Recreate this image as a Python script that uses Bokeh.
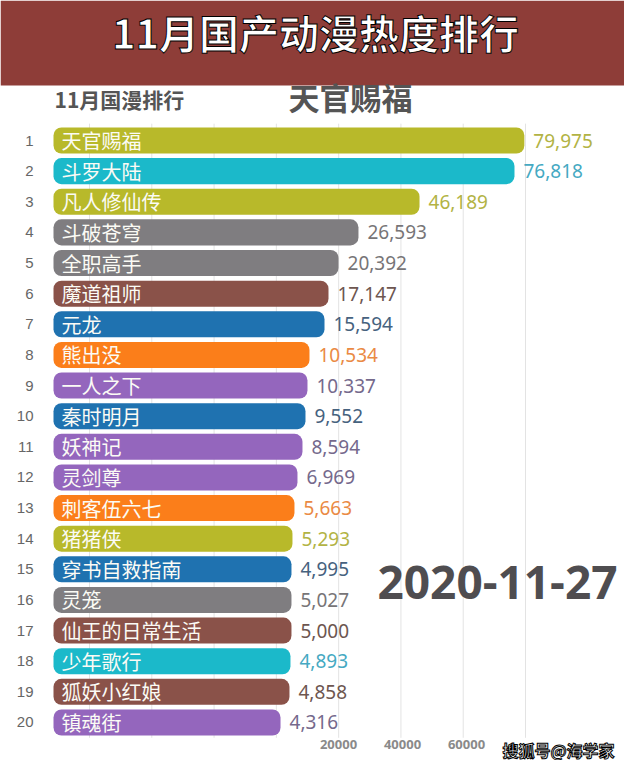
from bokeh.plotting import figure
from bokeh.models import Range1d, ColumnDataSource
from bokeh.core.properties import value
from bokeh.embed import file_html
from bokeh.resources import INLINE

# ---------------- data ----------------
ranks = list(range(1, 21))
names = ["天官赐福", "斗罗大陆", "凡人修仙传", "斗破苍穹", "全职高手", "魔道祖师", "元龙",
         "熊出没", "一人之下", "秦时明月", "妖神记", "灵剑尊", "刺客伍六七", "猪猪侠",
         "穿书自救指南", "灵笼", "仙王的日常生活", "少年歌行", "狐妖小红娘", "镇魂街"]
values = [79975, 76818, 46189, 26593, 20392, 17147, 15594, 10534, 10337, 9552,
          8594, 6969, 5663, 5293, 4995, 5027, 5000, 4893, 4858, 4316]
# bar lengths shown in this (mid-animation) frame
bar_len = [79975, 78300, 62170, 51800, 48410, 46710, 46030, 43480, 43140, 42800,
           42290, 41440, 40930, 40590, 40420, 40420, 40420, 40250, 40080, 38560]
groups = ["olive", "cyan", "olive", "gray", "gray", "brown", "blue", "orange", "purple", "blue",
          "purple", "purple", "orange", "olive", "blue", "gray", "brown", "cyan", "brown", "purple"]
grid_ticks = [10000, 20000, 30000, 40000, 50000, 60000, 70000, 80000]
axis_ticks = [20000, 40000, 60000]
chart_title = "11月国产动漫热度排行"
sub_title = "11月国漫排行"
leader = "天官赐福"
date_label = "2020-11-27"
watermark = "搜狐号@海学家"

bar_colors = {"olive": "#b8b92a", "cyan": "#1bb9ca", "gray": "#7f7d80", "brown": "#8a5249",
              "blue": "#1f72b0", "orange": "#fb7e1a", "purple": "#9466bd"}
label_colors = {"olive": "#b2b344", "cyan": "#45a9c2", "gray": "#777577", "brown": "#6d5650",
                "blue": "#46627e", "orange": "#ea8a44", "purple": "#75698c"}

# ---------------- figure ----------------
W, H = 624, 760
k = 471 / 80000.0                      # px per unit of the bar scale
x0_px = 53                             # where zero sits
row_px = 30.63
row1_px = 140

p = figure(width=W, height=H, output_backend="svg", toolbar_location=None,
           x_axis_type=None, y_axis_type=None, min_border=0,
           x_range=Range1d(-x0_px / k, (W - x0_px) / k),
           y_range=Range1d(1 + (H - row1_px) / row_px, 1 - row1_px / row_px))
p.outline_line_color = None
p.background_fill_color = "white"
p.border_fill_color = "white"

p.extra_x_ranges = {
    "px": Range1d(0, W),
    "grid": Range1d(10000 - 89 / (436 / 70000), 10000 + (W - 89) / (436 / 70000)),
    "ax": Range1d(20000 - 338 / 0.0032, 20000 + (W - 338) / 0.0032),
}
p.extra_y_ranges = {"px": Range1d(H, 0)}

# header band
p.quad(left=[0], right=[W], top=[0], bottom=[85], x_range_name="px", y_range_name="px",
       fill_color="#8e3d38", line_color=None)
p.text(x=[315], y=[31], text=[chart_title], x_range_name="px", y_range_name="px",
       text_font=value("Noto Sans CJK SC"), text_font_style="bold", text_font_size="40px",
       text_color="white", text_outline_color="black", text_align="center",
       text_baseline="middle")

p.text(x=[54], y=[98], text=[sub_title], x_range_name="px", y_range_name="px",
       text_font=value("Noto Sans CJK SC"), text_font_style="bold", text_font_size="21px",
       text_color="#555555", text_align="left", text_baseline="middle")
p.text(x=[350], y=[96], text=[leader], x_range_name="px", y_range_name="px",
       text_font=value("Noto Sans CJK SC"), text_font_style="bold", text_font_size="31px",
       text_color="#555555", text_align="center", text_baseline="middle")

# grid lines
p.segment(x0=grid_ticks, x1=grid_ticks, y0=[0.45] * len(grid_ticks), y1=[20.5] * len(grid_ticks),
          x_range_name="grid", line_color="#e3e3e3", line_width=1)

# bars
src = ColumnDataSource(dict(
    rank=ranks, name=names, length=bar_len,
    label=[f"{v:,}" for v in values],
    rank_txt=[str(r) for r in ranks],
    color=[bar_colors[g] for g in groups],
    lcolor=[label_colors[g] for g in groups],
    zero=[0] * len(ranks),
))
p.hbar(y="rank", left="zero", right="length", height=0.85, source=src,
       fill_color="color", line_color=None, border_radius=8)
p.text(x="zero", y="rank", text="name", source=src, x_offset=8,
       text_font=value("Noto Sans CJK SC"), text_font_size="20px", text_color="#fbfbf5",
       text_align="left", text_baseline="middle")
p.text(x="length", y="rank", text="label", source=src, x_offset=9,
       text_font=value("Noto Sans"), text_font_size="19px", text_color="lcolor",
       text_align="left", text_baseline="middle")
p.text(x="zero", y="rank", text="rank_txt", source=src, x_offset=-20,
       text_font=value("Liberation Sans"), text_font_size="15px", text_color="#666666",
       text_align="right", text_baseline="middle")

# date
p.text(x=[497], y=[582], text=[date_label], x_range_name="px", y_range_name="px",
       text_font=value("Open Sans"), text_font_style="bold", text_font_size="46px",
       text_color="#4f4d50", text_align="center", text_baseline="middle")

# axis tick labels (bottom)
p.text(x=axis_ticks, y=[744] * len(axis_ticks), text=[str(t) for t in axis_ticks],
       x_range_name="ax", y_range_name="px",
       text_font=value("Open Sans"), text_font_style="bold", text_font_size="13px",
       text_color="#8a8a8a", text_align="center", text_baseline="middle")

# watermark
p.text(x=[558], y=[749], text=[watermark], x_range_name="px", y_range_name="px",
       text_font=value("Noto Sans CJK SC"), text_font_style="bold", text_font_size="16px",
       text_color="white", text_outline_color="black", text_align="center",
       text_baseline="middle")

open("out.html", "w").write(file_html(p, INLINE))
